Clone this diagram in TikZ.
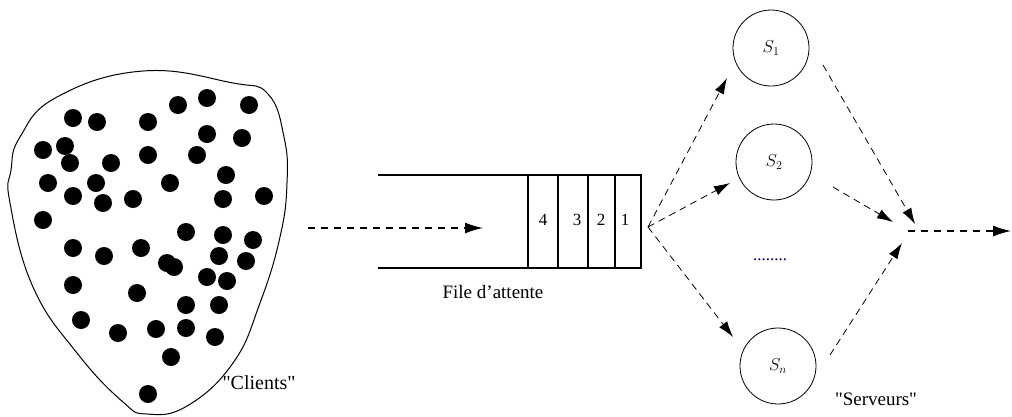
\documentclass[tikz,border=0pt]{standalone}
\usepackage{fontspec}
\setmainfont{Liberation Serif}
% plain family without TeX ligatures, so that " stays a straight quote
\newfontfamily\plainserif{Liberation Serif}
\usetikzlibrary{arrows.meta}
\begin{document}
\begin{tikzpicture}[x=1pt,y=-1pt,
  lbl/.style={font=\plainserif\fontsize{19}{22}\selectfont, inner sep=0pt},
  num/.style={font=\fontsize{17}{20}\selectfont, inner sep=0pt},
  client/.style={fill=black},
  server/.style={draw, circle, line width=0.8pt, minimum size=76pt, inner sep=0pt,
                 font=\fontsize{17}{20}\selectfont},
  flow/.style={line width=1.3pt, dash pattern=on 7pt off 6pt,
               -{Latex[length=18pt,width=11pt]}},
  route/.style={line width=0.8pt, dash pattern=on 7pt off 5pt,
                -{Latex[length=16pt,width=10pt]}},
  pipe/.style={line width=1.1pt}]
\useasboundingbox (0,0) rectangle (1012,416);

% population of clients
\draw[line width=1pt] plot[smooth cycle, tension=0.75] coordinates {
  (143,71) (233,83) (268,94) (284,137) (287,183) (280,237) (260,303)
  (233,363) (187,406) (147,414) (123,402) (77,353) (33,287) (10,203)
  (11,170) (20,137) (57,97)};
\foreach \p in {(73,118),(97,122),(148,122),(178,105),(207,98),(249,105),
  (207,134),(242,138),(43,150),(65,146),(70,163),(111,163),(148,155),
  (197,155),(226,175),(48,183),(73,196),(96,183),(103,203),(133,199),
  (170,183),(223,199),(264,196),(43,220),(186,232),(223,235),(253,240),
  (73,248),(104,256),(141,248),(167,263),(174,267),(219,256),(246,261),
  (207,277),(227,281),(73,285),(137,293),(186,305),(219,305),(81,320),
  (118,333),(156,329),(186,328),(215,337),(171,357),(148,394)}
  \fill[client] \p circle (9);
\node[lbl, font=\plainserif\fontsize{20}{22}\selectfont] (clients) at (259,383) {"Clients"};

% waiting line
\draw[pipe] (378,175) -- (528,175);
\draw[pipe] (378,268) -- (528,268);
\node[draw, pipe, minimum width=113pt, minimum height=93pt, inner sep=0pt]
  (queue) at (584.5,221.5) {};
\draw[pipe] (558,175) -- (558,268);
\draw[pipe] (588,175) -- (588,268);
\draw[pipe] (615,175) -- (615,268);
\node[num] (c4) at (543,220) {4};
\node[num] (c3) at (577,220) {3};
\node[num] (c2) at (601,220) {2};
\node[num] (c1) at (625,220) {1};
\node[lbl, font=\fontsize{19}{22}\selectfont] (qlabel) at (493,292) {File d'attente};

\coordinate (src) at (308,228);
\coordinate (qin) at (483,228);
\draw[flow] (src) -- (qin);

% servers
\node[server] (s1) at (771,48) {$S_1$};
\node[server] (s2) at (774,162) {$S_2$};
\node[server] (sn) at (778,366) {$S_n$};
\node[font=\fontsize{17}{17}\selectfont, inner sep=0pt, text=blue!40!black] (more) at (770,260) {........};
\node[lbl] (servlabel) at (876,399) {"Serveurs"};

% routing towards the servers
\coordinate (fork) at (648,227);
\coordinate (a1) at (727,78);
\coordinate (a2) at (730,183);
\coordinate (an) at (733,337);
\draw[route] (fork) -- (a1);
\draw[route] (fork) -- (a2);
\draw[route] (fork) -- (an);

% departures from the servers
\coordinate (b1) at (823,65);
\coordinate (b2) at (833,187);
\coordinate (bn) at (830,355);
\coordinate (m1) at (915,224);
\coordinate (m2) at (893,222);
\coordinate (mn) at (902,243);
\draw[route] (b1) -- (m1);
\draw[route] (b2) -- (m2);
\draw[route] (bn) -- (mn);

\coordinate (merge) at (908,231);
\coordinate (exit) at (1011,231);
\draw[flow] (merge) -- (exit);
\end{tikzpicture}
\end{document}
